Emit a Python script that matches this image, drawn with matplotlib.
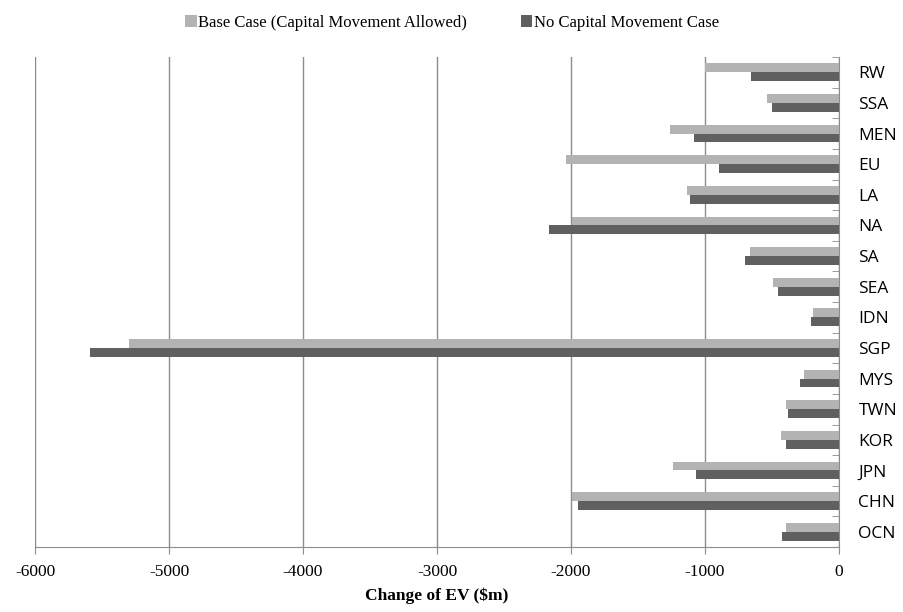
import numpy as np
import matplotlib
matplotlib.use("Agg")
import matplotlib.pyplot as plt

plt.rcParams["axes.unicode_minus"] = False

# regions, top to bottom as in the chart
regions = ["RW", "SSA", "MEN", "EU", "LA", "NA", "SA", "SEA",
           "IDN", "SGP", "MYS", "TWN", "KOR", "JPN", "CHN", "OCN"]
base_case = [-1000, -535, -1258, -2035, -1137, -1990, -665, -491,
             -191, -5301, -261, -392, -434, -1236, -1990, -392]
no_capital = [-655, -501, -1080, -896, -1115, -2167, -698, -457,
              -206, -5587, -293, -380, -392, -1070, -1949, -424]

light = "#b3b3b3"
dark = "#606060"
grid_col = "#8c8c8c"

fig = plt.figure(figsize=(9.04, 6.12), dpi=100)
ax = fig.add_axes([35 / 904, 65 / 612, 804 / 904, 490 / 612])

y = np.arange(len(regions))
h = 0.29
ax.barh(y - h / 2, base_case, height=h, color=light, label="Base Case (Capital Movement Allowed)", zorder=3)
ax.barh(y + h / 2, no_capital, height=h, color=dark, label="No Capital Movement Case", zorder=3)

ax.set_xlim(-6000, 0)
ax.set_ylim(len(regions) - 0.5, -0.5)
ax.set_xticks(np.arange(-6000, 1, 1000))
ax.xaxis.grid(True, color=grid_col, linewidth=1.0, zorder=0)

# category labels on the right side
ax.yaxis.tick_right()
ax.set_yticks(y)
ax.set_yticklabels(regions, fontfamily="Open Sans", fontsize=12.5)
ax.tick_params(axis="y", length=0, pad=14)
ax.set_yticks(np.arange(-0.5, len(regions), 1), minor=True)
ax.tick_params(axis="y", which="minor", length=5, direction="in", color=grid_col, right=True, left=False)

ax.tick_params(axis="x", length=5, color=grid_col, labelsize=12.5, pad=7)
for lab in ax.get_xticklabels():
    lab.set_fontfamily("Liberation Serif")

for s in ["top", "left"]:
    ax.spines[s].set_visible(False)
ax.spines["bottom"].set_color(grid_col)
ax.spines["right"].set_color(grid_col)

ax.set_xlabel("Change of EV ($m)", fontfamily="Liberation Serif", fontweight="bold", fontsize=12.5, labelpad=6)

leg = fig.legend(loc="upper center", bbox_to_anchor=(0.5, 1.0), ncol=2, frameon=False,
                 prop={"family": "Liberation Serif", "size": 12},
                 handlelength=0.7, handleheight=0.7, handletextpad=0.1, columnspacing=3.2)

fig.savefig("out.png", dpi=100)
